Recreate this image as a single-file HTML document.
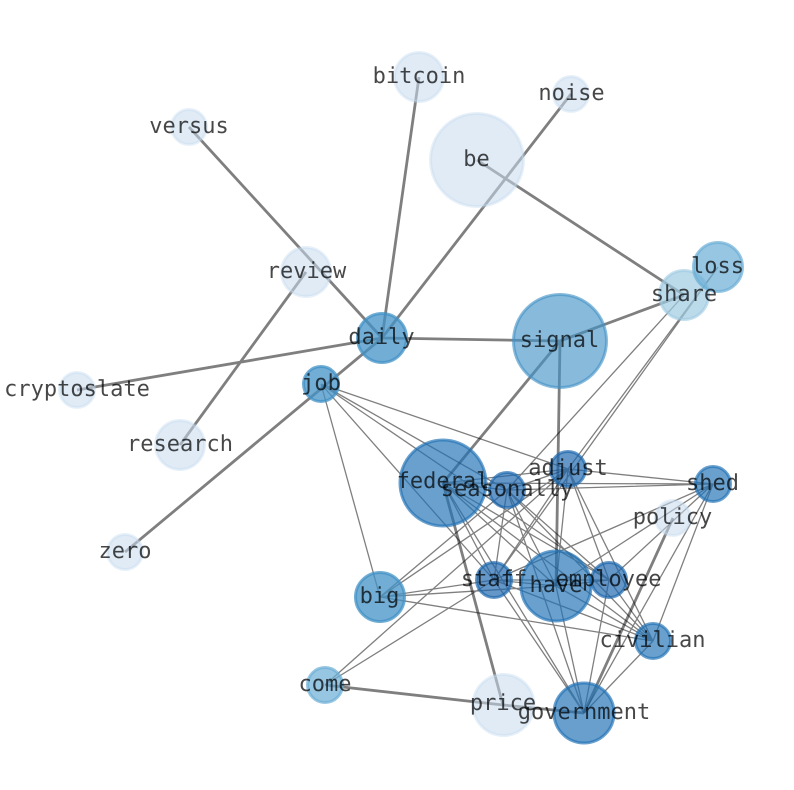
<!DOCTYPE html>
<html><head><meta charset="utf-8"><style>
html,body{margin:0;padding:0;background:#fff}
svg{display:block}
text{font-family:"DejaVu Sans Mono","Liberation Mono",monospace;font-size:22px;fill:#000;fill-opacity:.72;text-anchor:middle;text-rendering:geometricPrecision}
</style></head><body>
<svg width="794" height="790" viewBox="0 0 794 790" xmlns="http://www.w3.org/2000/svg">
<path fill="none" stroke="#000" stroke-opacity=".5" stroke-width="1.3" d="
M321 384L507 490M321 384L568 469M321 384L494 580M321 384L609 580M321 384L380 597
M443 483L507 490M443 483L568 469M443 483L713 484M443 483L494 580M443 483L556 586M443 483L609 580M443 483L653 641M443 483L584 713
M507 490L568 469M507 490L713 484M507 490L494 580M507 490L556 586M507 490L609 580M507 490L653 641M507 490L584 713M507 490L380 597
M568 469L713 484M568 469L556 586M568 469L609 580M568 469L653 641M568 469L380 597M568 469L494 580
M713 484L494 580M713 484L556 586M713 484L609 580M713 484L653 641M713 484L584 713
M494 580L556 586M494 580L609 580M494 580L653 641M494 580L584 713M494 580L380 597
M556 586L609 580M556 586L653 641M556 586L584 713M556 586L380 597
M609 580L653 641M609 580L584 713
M653 641L584 713M653 641L380 597
M325 685L568 469M325 685L494 580
M684 295L507 490M718 267L568 469M718 267L494 580"/>
<path fill="none" stroke="#000" stroke-opacity=".5" stroke-width="2.8" d="
M419 77L382 338M571 94L382 338M189 127L382 338M306 272L180 445M77 390L382 338M382 338L560 341M125 552L382 338
M477 160L684 295M560 341L684 295M560 341L443 483M560 341L556 586M443 483L503 705M325 685L503 705M503 705L584 713M673 518L584 713"/>
<g stroke-width="3">
<g fill="#c6dbef" stroke="#c6dbef" fill-opacity=".55" stroke-opacity=".42">
<circle cx="419" cy="77" r="24.5"/><circle cx="571" cy="94" r="17.5"/><circle cx="189" cy="127" r="17.5"/><circle cx="477" cy="160" r="46.5"/><circle cx="306" cy="272" r="24.5"/><circle cx="77" cy="390" r="17.5"/><circle cx="180" cy="445" r="24.5"/><circle cx="125" cy="552" r="17.5"/><circle cx="673" cy="518" r="17.5"/><circle cx="503.5" cy="705" r="30.5"/>
</g>
<g fill="#9ecae1" stroke="#9ecae1" fill-opacity=".7" stroke-opacity=".6"><circle cx="684" cy="295" r="24.5"/></g>
<g fill="#6baed6" stroke="#6baed6" fill-opacity=".7" stroke-opacity=".7"><circle cx="718" cy="267" r="24.5"/><circle cx="325" cy="685" r="17.5"/></g>
<g fill="#4292c6" stroke="#4292c6" fill-opacity=".63" stroke-opacity=".63"><circle cx="560" cy="341" r="46.5"/></g>
<g fill="#4292c6" stroke="#4292c6" fill-opacity=".75" stroke-opacity=".75"><circle cx="321" cy="384" r="17.5"/><circle cx="382" cy="338" r="24.5"/><circle cx="380" cy="597" r="24.5"/></g>
<g fill="#2171b5" stroke="#2171b5" fill-opacity=".67" stroke-opacity=".67"><circle cx="443" cy="483" r="43"/><circle cx="556" cy="586" r="35"/><circle cx="713" cy="484" r="17.5"/><circle cx="653" cy="641" r="17.5"/></g>
<g fill="#1a65ad" stroke="#1a65ad" fill-opacity=".68" stroke-opacity=".68"><circle cx="507" cy="490" r="17.5"/><circle cx="568" cy="469" r="17.5"/><circle cx="494" cy="580" r="17.5"/><circle cx="609" cy="580" r="17.5"/></g>
<g fill="#2171b5" stroke="#2171b5" fill-opacity=".68" stroke-opacity=".68"><circle cx="584" cy="713" r="30"/></g>
</g>
<g transform="translate(0 -1)">
<text x="419" y="84">bitcoin</text><text x="571.5" y="101">noise</text><text x="189" y="134">versus</text><text x="476.5" y="167">be</text><text x="306.5" y="279">review</text><text x="717.5" y="274">loss</text><text x="684" y="302">share</text><text x="559.5" y="348">signal</text><text x="381.5" y="345">daily</text><text x="321" y="391">job</text><text x="77" y="397">cryptoslate</text><text x="180" y="452">research</text><text x="443" y="489">federal</text><text x="507" y="497">seasonally</text><text x="568" y="476">adjust</text><text x="712.5" y="491">shed</text><text x="672.5" y="525">policy</text><text x="125" y="559">zero</text><text x="494" y="587">staff</text><text x="556" y="593">have</text><text x="608.5" y="587">employee</text><text x="379.5" y="604">big</text><text x="652.5" y="648">civilian</text><text x="325" y="692">come</text><text x="503" y="711">price</text><text x="584" y="720">government</text>
</g>
</svg>
</body></html>
